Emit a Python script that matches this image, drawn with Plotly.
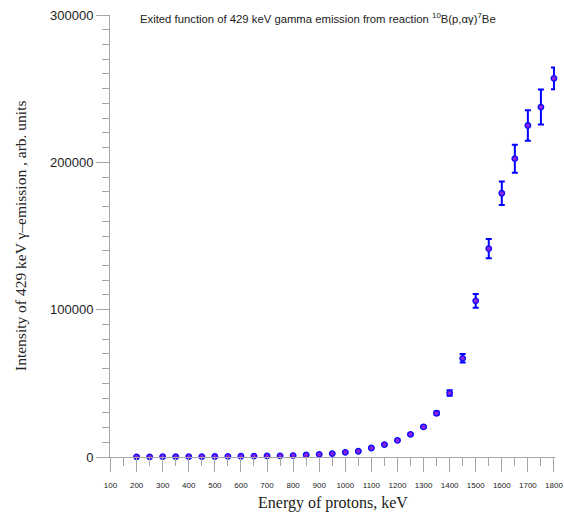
import plotly.graph_objects as go

energy_kev = [200, 250, 300, 350, 400, 450, 500, 550, 600, 650, 700, 750, 800, 850,
              900, 950, 1000, 1050, 1100, 1150, 1200, 1250, 1300, 1350, 1400, 1450,
              1500, 1550, 1600, 1650, 1700, 1750, 1800]
intensity = [100, 150, 200, 200, 250, 300, 350, 400, 500, 600, 700, 800, 1000, 1400,
             1800, 2300, 3200, 3900, 6100, 8400, 11300, 15400, 20400, 29700, 43400, 67000,
             106000, 141400, 179000, 202500, 225000, 237500, 257000]
errors = [10, 10, 10, 10, 15, 15, 20, 20, 25, 30, 35, 40, 50, 70,
          90, 110, 150, 180, 280, 380, 450, 600, 800, 1100, 1900, 2900,
          4700, 6500, 8000, 9500, 10300, 11900, 7400]
x_tickvals = list(range(100, 1801, 100))
y_tickvals = [0, 100000, 200000, 300000]

fig = go.Figure()
fig.add_trace(go.Scatter(
    x=energy_kev, y=intensity, mode="markers",
    marker=dict(size=5.5, color="#8a22e0", line=dict(color="#0a0aff", width=1.3)),
    error_y=dict(type="data", array=errors, visible=True, color="#0000ff",
                 thickness=2, width=3),
    cliponaxis=False, showlegend=False,
))

axis_gray = "#a6a6a6"
fig.update_layout(
    width=564, height=513,
    margin=dict(l=110, r=9, t=15, b=56),
    paper_bgcolor="white", plot_bgcolor="white",
    xaxis=dict(
        range=[98, 1804], tickvals=x_tickvals, ticktext=[str(v) for v in x_tickvals],
        showgrid=False, zeroline=False, showline=True, linecolor=axis_gray, linewidth=1,
        ticks="outside", ticklen=14, tickcolor=axis_gray, tickwidth=1,
        tickfont=dict(family="Liberation Sans, Arial", size=8, color="#222"),
        ticklabelstandoff=6, automargin=False,
        minor=dict(dtick=50, tick0=100, ticks="outside", ticklen=8,
                   tickcolor=axis_gray, tickwidth=1, showgrid=False),
    ),
    yaxis=dict(
        range=[0, 300000], tickvals=y_tickvals, ticktext=[str(v) for v in y_tickvals],
        showgrid=False, zeroline=False, showline=True, linecolor=axis_gray, linewidth=1,
        ticks="outside", ticklen=13, tickcolor=axis_gray, tickwidth=1,
        tickfont=dict(family="Liberation Sans, Arial", size=13, color="#222"),
        automargin=False,
        minor=dict(dtick=10000, tick0=0, ticks="outside", ticklen=7,
                   tickcolor=axis_gray, tickwidth=1, showgrid=False),
    ),
    annotations=[
        dict(text="Exited function of 429 keV gamma emission from reaction "
                  "<sup>10</sup>B(p,αγ)<sup>7</sup>Be",
             xref="paper", yref="paper", x=0.063, y=1.0, xanchor="left", yanchor="middle",
             yshift=-3, showarrow=False,
             font=dict(family="Liberation Sans, Arial", size=11.3, color="#222")),
        dict(text="Energy of protons, keV", xref="paper", yref="paper",
             x=0.5, y=0, xanchor="center", yanchor="middle", yshift=-46,
             showarrow=False,
             font=dict(family="Liberation Serif, Times New Roman", size=16, color="#222")),
        dict(text="Intensity of 429 keV γ–emission , arb. units", xref="paper",
             yref="paper", x=0, y=0.5, xanchor="center", yanchor="middle",
             xshift=-90, textangle=-90, showarrow=False,
             font=dict(family="Liberation Serif, Times New Roman", size=15.5, color="#222")),
    ],
)

fig.write_html("out.html", config={"displayModeBar": False},
               post_script="document.body.style.margin='0';document.body.style.overflow='hidden';")
